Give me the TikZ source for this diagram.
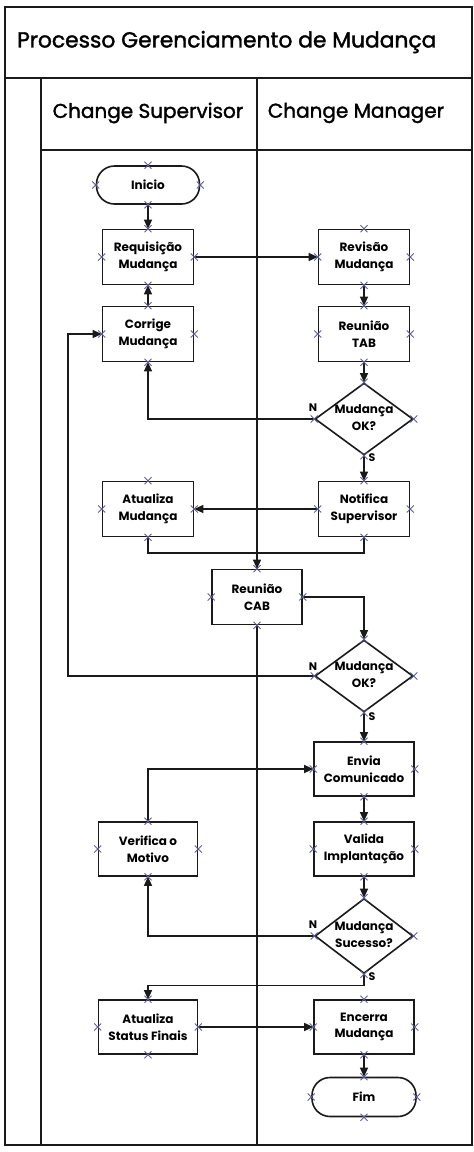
\documentclass[tikz,border=0pt]{standalone}
\usepackage{fontspec}
\setmainfont{Poppins}
\newfontfamily\hdfont{Poppins}[FakeBold=1.6]
\usetikzlibrary{shapes.geometric,arrows.meta}
\definecolor{ink}{HTML}{1A1A1A}
\definecolor{cpcol}{HTML}{5E5E96}
\tikzset{
  frame/.style={draw=ink,line width=1.5pt},
  box/.style={draw=ink,line width=1.6pt,fill=white,rectangle,minimum width=91pt,minimum height=55pt,inner sep=1pt,align=center,font=\fontsize{12}{16.5}\selectfont\bfseries},
  wbox/.style={box,minimum width=100pt,minimum height=54pt},
  term/.style={box,rounded corners=18pt,minimum width=103pt,minimum height=38pt},
  dec/.style={draw=ink,line width=1.6pt,fill=white,diamond,minimum width=98pt,minimum height=72pt,inner sep=0pt},
  dtext/.style={align=center,font=\fontsize{12}{17}\selectfont\bfseries,inner sep=0pt},
  lab/.style={font=\fontsize{11}{12}\selectfont\bfseries,inner sep=0pt},
  hd/.style={inner sep=0pt,font=\hdfont\fontsize{20}{24}\selectfont},
  arr/.style={draw=ink,line width=1.2pt,-{Triangle[length=9pt,width=8pt]}},
  conn/.style={draw=ink,line width=1.2pt},
  cp/.style={draw=cpcol,line width=0.9pt},
}
\newcommand\cpts[1]{\foreach \a in {north,south,east,west}{\draw[cp] (#1.\a) +(-3.5,-3.5) -- +(3.5,3.5) +(-3.5,3.5) -- +(3.5,-3.5);}}
\begin{document}
\begin{tikzpicture}[x=1pt,y=-1pt]
\useasboundingbox[fill=white] (0,0) rectangle (474,1152);
% frame
\draw[frame] (5,7) rectangle (472,1145);
\draw[frame] (5,78) -- (472,78);
\draw[frame] (41,78) -- (41,1145);
\draw[frame] (41,150) -- (472,150);
\draw[frame] (257,78) -- (257,1145);
\node[hd,anchor=west,font=\hdfont\fontsize{21.8}{24}\selectfont] (title) at (17,42) {Processo Gerenciamento de Mudança};
\node[hd] (h1) at (148,113) {Change Supervisor};
\node[hd] (h2) at (356,113) {Change Manager};
% nodes
\node[term] (ini) at (148,185) {Inicio};
\node[box] (req) at (148,257) {Requisição\\Mudança};
\node[box] (rev) at (364,257) {Revisão\\Mudança};
\node[box] (cor) at (148,334) {Corrige\\Mudança};
\node[box] (tab) at (364,334) {Reunião\\TAB};
\node[dec] (d1) at (364,419) {};
\node[dtext] (d1t) at (364,418) {Mudança\\OK?};
\node[box] (atu) at (148,509) {Atualiza\\Mudança};
\node[box] (not) at (364,509) {Notifica\\Supervisor};
\node[box,minimum width=90pt] (cab) at (257,597) {Reunião\\CAB};
\node[dec] (d2) at (364,676) {};
\node[dtext] (d2t) at (364,675) {Mudança\\OK?};
\node[wbox] (env) at (364,769) {Envia\\Comunicado};
\node[wbox] (val) at (364,849) {Valida\\Implantação};
\node[wbox,minimum width=99pt] (ver) at (148,849) {Verifica o\\Motivo};
\node[dec,minimum height=75pt] (d3) at (364,936) {};
\node[dtext] (d3t) at (364,935) {Mudança\\Sucesso?};
\node[wbox,minimum width=99pt] (ats) at (148,1027) {Atualiza\\Status Finais};
\node[wbox] (enc) at (364,1027) {Encerra\\Mudança};
\node[term,minimum width=104pt,minimum height=39pt] (fim) at (364,1097) {Fim};
% labels
\node[lab] (n1) at (313,408) {N};
\node[lab] (s1) at (372,458) {S};
\node[lab] (n2) at (313,667) {N};
\node[lab] (s2) at (372,717) {S};
\node[lab] (n3) at (313,925) {N};
\node[lab] (s3) at (372,977) {S};
% helper coordinates
\coordinate (j1) at (257,553);
\coordinate (lp) at (68,0);
% connectors
\draw[arr] (ini.south) -- (req.north);
\draw[arr] (cor.north) -- (req.south);
\draw[arr] (req.east) -- (rev.west);
\draw[arr] (rev.south) -- (tab.north);
\draw[arr] (tab.south) -- (d1.north);
\draw[arr] (d1.south) -- (not.north);
\draw[arr] (d1.west) -| (cor.south);
\draw[arr] (not.west) -- (atu.east);
\draw[conn] (atu.south) |- (j1) -| (not.south);
\draw[arr] (j1) -- (cab.north);
\draw[arr] (cab.east) -| (d2.north);
\draw[arr] (d2.west) -- (d2.west -| lp) |- (cor.west);
\draw[arr] (d2.south) -- (env.north);
\draw[arr] (ver.north) |- (env.west);
\draw[arr] (env.south) -- (val.north);
\draw[arr] (val.south) -- (d3.north);
\draw[arr] (d3.west) -| (ver.south);
\draw[arr] (d3.south) -- ++(0,11) -| (ats.north);
\draw[arr] (ats.east) -- (enc.west);
\draw[arr] (enc.south) -- (fim.north);
% connection points
\foreach \n in {ini,req,rev,cor,tab,d1,atu,not,cab,d2,env,val,ver,d3,ats,enc,fim}{\cpts{\n}}
\end{tikzpicture}
\end{document}
